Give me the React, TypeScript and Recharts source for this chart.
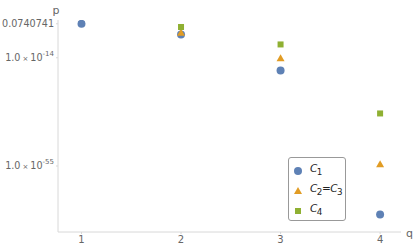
import { ScatterChart, Scatter, XAxis, YAxis, Legend } from 'recharts'

const qValues = [1, 2, 3, 4]
const c1Values = [0.0740741, 6e-6, 1.6e-19, 4e-74]
const c23Values = [null, 3.3e-5, 7e-15, 4.5e-55]
const c4Values = [null, 4.5e-3, 1.1e-9, 8e-36]

const xTicks = [1, 2, 3, 4]
const yTicks = [0.0740741, 1e-14, 1e-55]
const yTickLabels = [
  { mantissa: '0.0740741', exponent: '' },
  { mantissa: '1.0', exponent: '-14' },
  { mantissa: '1.0', exponent: '-55' },
]

const seriesNames = ['C1', 'C2=C3', 'C4']
const colors = ['#5E81B5', '#E19C24', '#8FB032']

const toPoints = (values: (number | null)[]) =>
  qValues
    .map((q, i) => ({ q, p: values[i] }))
    .filter((d) => d.p !== null)

const font = '"DejaVu Sans", sans-serif'
const textColor = '#666'
const axisColor = '#d8d8d8'

function YTick(props: any) {
  const { x, y, index } = props
  const lbl = yTickLabels[index]
  if (!lbl) return null
  return (
    <text x={x} y={y} dy={3.5} textAnchor="end" fontSize={9.6} fill={textColor} fontFamily={font}>
      {lbl.exponent ? (
        <>
          <tspan>{lbl.mantissa}</tspan>
          <tspan fontSize={7} dx={2}>×</tspan>
          <tspan dx={2}>10</tspan>
          <tspan fontSize={7} dy={-5}>{lbl.exponent}</tspan>
        </>
      ) : (
        lbl.mantissa
      )}
    </text>
  )
}

function Marker({ kind, cx, cy, color }: { kind: number; cx: number; cy: number; color: string }) {
  if (kind === 0) return <circle cx={cx} cy={cy} r={4} fill={color} />
  if (kind === 1)
    return <polygon points={`${cx},${cy - 4} ${cx + 4},${cy + 3} ${cx - 4},${cy + 3}`} fill={color} />
  return <rect x={cx - 3} y={cy - 3} width={6} height={6} fill={color} />
}

function LegendBox() {
  const label = (i: number) => {
    if (i === 0) return <><i>C</i><sub>1</sub></>
    if (i === 1) return <><i>C</i><sub>2</sub>=<i>C</i><sub>3</sub></>
    return <><i>C</i><sub>4</sub></>
  }
  return (
    <div
      style={{
        border: '1px solid #999',
        borderRadius: 3,
        background: '#fff',
        width: 58,
        height: 64,
        boxSizing: 'border-box',
        padding: '3px 0 0 4px',
        fontFamily: font,
        fontSize: 10.5,
        color: '#222',
      }}
    >
      {seriesNames.map((name, i) => (
        <div key={name} style={{ display: 'flex', alignItems: 'center', height: 20, lineHeight: '11px' }}>
          <svg width={12} height={10} style={{ marginRight: 5 }}>
            <Marker kind={i} cx={5} cy={5} color={colors[i]} />
          </svg>
          <span style={{ whiteSpace: 'nowrap', letterSpacing: -0.5 }}>{label(i)}</span>
        </div>
      ))}
    </div>
  )
}

export default function App() {
  const series = [c1Values, c23Values, c4Values]
  return (
    <div style={{ position: 'absolute', left: 0, top: 0, background: '#fff' }}>
      <ScatterChart width={415} height={249} margin={{ top: 20, right: 14, bottom: 0, left: 0 }}>
        <XAxis
          type="number"
          dataKey="q"
          domain={[0.764, 4.21]}
          ticks={xTicks}
          allowDataOverflow
          height={17}
          stroke={axisColor}
          tickSize={2}
          tick={{ fill: textColor, fontSize: 10, fontFamily: font }}
          label={(props: any) => {
            const vb = props.viewBox
            return (
              <text x={vb.x + vb.width + 5} y={vb.y + 5} fontSize={11} fill={textColor} fontFamily={font}>
                q
              </text>
            )
          }}
        />
        <YAxis
          type="number"
          dataKey="p"
          scale="log"
          domain={[1e-80, 2]}
          ticks={yTicks}
          allowDataOverflow
          width={58}
          stroke={axisColor}
          tickSize={2}
          tick={<YTick />}
          label={(props: any) => {
            const vb = props.viewBox
            return (
              <text x={vb.x + vb.width - 2} y={vb.y - 6} textAnchor="middle" fontSize={11} fill={textColor} fontFamily={font}>
                p
              </text>
            )
          }}
        />
        <Legend
          layout="vertical"
          align="center"
          verticalAlign="middle"
          content={() => <LegendBox />}
          wrapperStyle={{ position: 'absolute', left: 288, top: 157, width: 58, height: 64 }}
        />
        {series.map((vals, i) => (
          <Scatter
            key={seriesNames[i]}
            name={seriesNames[i]}
            data={toPoints(vals)}
            fill={colors[i]}
            isAnimationActive={false}
            shape={(p: any) => <Marker kind={i} cx={p.cx} cy={p.cy} color={colors[i]} />}
          />
        ))}
      </ScatterChart>
    </div>
  )
}
